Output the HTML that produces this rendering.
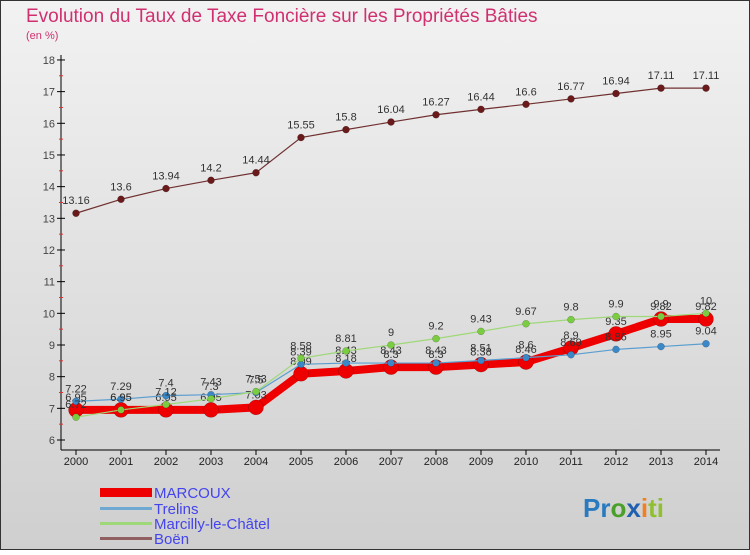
<!DOCTYPE html>
<html><head><meta charset="utf-8"><style>
body{margin:0;width:750px;height:550px;overflow:hidden;font-family:"Liberation Sans",sans-serif}
</style></head><body>
<svg id="c" width="750" height="550" xmlns="http://www.w3.org/2000/svg">
<defs><linearGradient id="bg" x1="0" y1="0" x2="0" y2="1"><stop offset="0" stop-color="#f2f2f2"/><stop offset="1" stop-color="#cfcfcf"/></linearGradient></defs>
<rect x="0.5" y="0.5" width="749" height="549" fill="url(#bg)" stroke="#333"/>
<text x="26" y="22" font-size="19" fill="#d03070">Evolution du Taux de Taxe Foncière sur les Propriétés Bâties</text>
<text x="26" y="39" font-size="11" fill="#d03070">(en %)</text>
<g id="axes"></g><g id="series"></g>
<g font-size="15" fill="#4444ee">
<rect x="100" y="488" width="52" height="9" fill="#ee0000"/>
<text x="154" y="498">MARCOUX</text>
<rect x="100" y="507" width="52" height="3" fill="#6fa8d0"/>
<text x="154" y="514">Trelins</text>
<rect x="100" y="522" width="52" height="3" fill="#9fd878"/>
<text x="154" y="529">Marcilly-le-Châtel</text>
<rect x="100" y="537" width="52" height="3" fill="#906060"/>
<text x="154" y="544">Boën</text>
</g>
<text x="583" y="517" font-size="26" font-weight="bold"><tspan fill="#2a7ac0">Pr</tspan><tspan fill="#4aa02a">o</tspan><tspan fill="#2060b0">x</tspan><tspan fill="#f08020">i</tspan><tspan fill="#90c030">ti</tspan></text>
</svg>
<script>
const years=[2000,2001,2002,2003,2004,2005,2006,2007,2008,2009,2010,2011,2012,2013,2014];
const yTicks=[6,7,8,9,10,11,12,13,14,15,16,17,18];
const marcoux=[6.95,6.95,6.95,6.95,7.03,8.09,8.18,8.3,8.3,8.38,8.46,8.9,9.35,9.82,9.82];
const trelins=[7.22,7.29,7.4,7.43,7.5,8.39,8.43,8.43,8.43,8.51,8.6,8.69,8.86,8.95,9.04];
const marcilly=[6.72,6.95,7.12,7.3,7.53,8.58,8.81,9,9.2,9.43,9.67,9.8,9.9,9.9,10];
const boen=[13.16,13.6,13.94,14.2,14.44,15.55,15.8,16.04,16.27,16.44,16.6,16.77,16.94,17.11,17.11];
const NS="http://www.w3.org/2000/svg";
const xS=i=>76+i*45;
const yS=v=>440-(v-6)*31.67;
function mk(t,a,p){const e=document.createElementNS(NS,t);for(const k in a)e.setAttribute(k,a[k]);p.appendChild(e);return e;}
const ax=document.getElementById('axes');
let yl=mk('line',{x1:61,y1:55,x2:61,y2:450,stroke:'#000'},ax);


let xl=mk('line',{x1:61,y1:450,x2:720,y2:450,stroke:'#000'},ax);


yTicks.forEach(v=>{
 mk('line',{x1:57,y1:yS(v),x2:65,y2:yS(v),stroke:'#000'},ax);
 if(v<18)mk('line',{x1:59,y1:yS(v+0.5),x2:63,y2:yS(v+0.5),stroke:'#e03030'},ax);
 const t=mk('text',{x:55,y:yS(v)+4,'font-size':11,'text-anchor':'end',fill:'#444'},ax);t.textContent=v;
 
 
});
years.forEach((y,i)=>{
 mk('line',{x1:xS(i),y1:450,x2:xS(i),y2:455,stroke:'#000'},ax);
 const t=mk('text',{x:xS(i),y:465,'font-size':11,'text-anchor':'middle',fill:'#222'},ax);t.textContent=y;
 
 
});
const sg=document.getElementById('series');
function draw(vals,color,w,r,dot,name){
 const g=mk('g',{},sg);
 
 
 mk('polyline',{points:vals.map((v,i)=>xS(i)+','+yS(v)).join(' '),fill:'none',stroke:color,'stroke-width':w},g);
 vals.forEach((v,i)=>{
  const c=mk('circle',{cx:xS(i),cy:yS(v),r:r,fill:dot,stroke:'rgba(0,0,0,0.3)','stroke-width':0.5},g);
  
  
  const t=mk('text',{x:xS(i),y:yS(v)-9,'font-size':11,'text-anchor':'middle',fill:'#333'},g);t.textContent=v;
  
  
 });
}
draw(boen,'#703030',1.2,3.5,'#6a1a1a','series-boen');
draw(marcoux,'#ee0000',8,7.5,'#ee0000','series-marcoux');
draw(trelins,'#5a9ed0',1.2,3.5,'#3a88c8','series-trelins');
draw(marcilly,'#9fd878',1.2,3.5,'#7acc40','series-marcilly');
</script>
</body></html>
